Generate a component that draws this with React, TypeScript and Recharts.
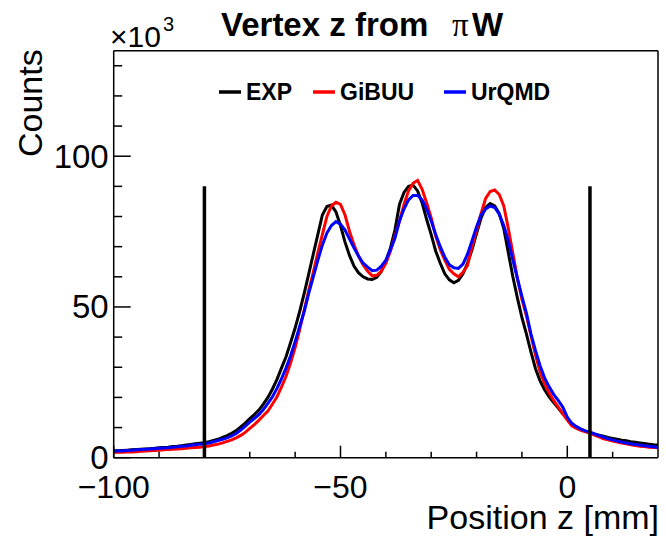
import { LineChart, Line, XAxis, YAxis, ReferenceLine } from 'recharts';

// bin centres, 1 mm steps from -100 to 20 mm
const positions = Array.from({ length: 121 }, (_, i) => -100 + i);

// counts in units of 10^3
const expCounts = [
  2.3, 2.3, 2.4, 2.5, 2.6, 2.7, 2.8, 2.9, 3.0, 3.1,
  3.3, 3.4, 3.5, 3.7, 3.8, 4.0, 4.2, 4.4, 4.6, 4.8,
  5.0, 5.3, 5.7, 6.1, 6.7, 7.3, 8.1, 9.0, 10.2, 11.5,
  13.0, 14.3, 15.8, 17.8, 20.0, 22.8, 26.0, 29.8, 33.5, 38.2,
  43.0, 48.5, 54.5, 61.0, 67.5, 74.0, 80.5, 83.3, 83.8, 81.5,
  77.0, 71.5, 67.0, 63.5, 61.3, 60.0, 59.3, 59.1, 59.8, 61.8,
  65.2, 69.5, 75.5, 84.0, 88.0, 90.0, 90.4, 88.5, 84.5, 79.0,
  74.0, 68.5, 64.5, 61.0, 59.0, 58.0, 58.8, 61.0, 64.5, 69.0,
  74.4, 79.5, 83.0, 84.3, 83.5, 81.0, 76.0, 68.0, 60.0, 53.0,
  46.5, 41.0, 35.0, 29.5, 25.5, 22.5, 20.2, 18.3, 16.5, 14.6,
  13.0, 11.3, 10.2, 9.4, 8.8, 8.4, 7.9, 7.5, 7.1, 6.7,
  6.4, 6.1, 5.8, 5.6, 5.3, 5.1, 4.9, 4.7, 4.5, 4.3,
  4.2,
];

const gibuuCounts = [
  1.7, 1.8, 1.8, 1.9, 1.9, 2.0, 2.1, 2.2, 2.3, 2.4,
  2.5, 2.6, 2.7, 2.8, 2.9, 3.0, 3.1, 3.3, 3.4, 3.5,
  3.7, 3.9, 4.2, 4.5, 4.9, 5.4, 5.9, 6.6, 7.4, 8.4,
  9.7, 11.0, 12.4, 14.0, 15.5, 17.8, 20.2, 23.5, 27.0, 31.5,
  36.5, 42.5, 49.0, 55.5, 61.5, 68.0, 74.0, 80.0, 83.5, 84.7,
  84.0, 80.5, 75.0, 70.5, 66.8, 63.9, 61.8, 60.3, 60.5, 61.9,
  64.5, 68.5, 73.5, 78.5, 84.0, 88.5, 91.0, 92.0, 89.0, 84.5,
  79.5, 73.5, 69.0, 65.5, 62.5, 61.0, 60.0, 61.5, 63.8, 70.0,
  75.5, 81.0, 86.0, 88.3, 88.8, 87.3, 83.5, 76.0, 67.8, 59.5,
  52.5, 47.0, 40.5, 34.0, 28.5, 24.5, 21.5, 19.0, 16.8, 14.6,
  12.5, 10.6, 9.7, 9.1, 8.6, 8.2, 7.5, 6.9, 6.3, 5.9,
  5.5, 5.2, 4.9, 4.6, 4.3, 4.0, 3.8, 3.7, 3.5, 3.4,
  3.3,
];

const urqmdCounts = [
  2.2, 2.2, 2.3, 2.4, 2.5, 2.6, 2.7, 2.8, 2.9, 3.0,
  3.1, 3.2, 3.3, 3.5, 3.6, 3.8, 3.9, 4.1, 4.3, 4.5,
  4.6, 4.9, 5.3, 5.7, 6.1, 6.6, 7.2, 8.0, 9.2, 10.4,
  11.8, 13.0, 14.3, 16.0, 18.0, 20.2, 23.0, 26.2, 29.8, 33.8,
  38.5, 43.5, 48.5, 54.5, 60.0, 65.5, 70.5, 74.5, 77.0, 78.3,
  77.5, 75.5, 72.5, 69.5, 66.8, 64.5, 63.2, 62.0, 62.2, 63.5,
  65.5, 69.0, 72.8, 78.5, 82.5, 85.5, 87.0, 87.0, 85.5, 82.5,
  78.5, 74.0, 70.0, 66.5, 64.0, 63.0, 62.8, 64.2, 67.5, 72.0,
  76.6, 80.5, 82.5, 83.5, 83.0, 80.8, 77.0, 72.0, 65.6, 59.5,
  53.5, 47.9, 41.0, 35.5, 30.5, 26.5, 23.5, 21.0, 19.0, 16.8,
  13.5, 11.4, 10.3, 9.5, 8.9, 8.5, 7.9, 7.3, 6.8, 6.3,
  5.9, 5.5, 5.2, 4.9, 4.6, 4.4, 4.2, 4.0, 3.8, 3.6,
  3.4,
];

const series = [
  { key: 'exp', name: 'EXP', color: '#000000' },
  { key: 'gibuu', name: 'GiBUU', color: '#ff0000' },
  { key: 'urqmd', name: 'UrQMD', color: '#0000ff' },
];

const xTicks = [-100, -90, -80, -70, -60, -50, -40, -30, -20, -10, 0, 10];
const yTicks = [0, 10, 20, 30, 40, 50, 60, 70, 80, 90, 100, 110, 120, 130];

// target-region cuts (vertical markers)
const cutPositions = [-80, 5];
const cutHeight = 90;

const data = positions.map((z, i) => ({
  z,
  exp: expCounts[i],
  gibuu: gibuuCounts[i],
  urqmd: urqmdCounts[i],
}));

const FONT = '"Liberation Sans", Arial, Helvetica, sans-serif';

const fmt = (v: number) => (v < 0 ? '\u2212' + Math.abs(v) : String(v));

const XTick = ({ x, y, payload }: any) => {
  const major = payload.value % 50 === 0;
  return (
    <g>
      <line x1={x} x2={x} y1={y} y2={y - (major ? 12 : 6)} stroke="#000" strokeWidth={1.5} />
      {major && (
        <text x={x} y={y + 40} textAnchor="middle" fontSize={32} fontFamily={FONT} fill="#000">
          {fmt(payload.value)}
        </text>
      )}
    </g>
  );
};

const YTick = ({ x, y, payload }: any) => {
  const major = payload.value % 50 === 0;
  return (
    <g>
      <line x1={x} x2={x + (major ? 17 : 8.5)} y1={y} y2={y} stroke="#000" strokeWidth={1.5} />
      {major && (
        <text x={x - 5} y={y + 11.5} textAnchor="end" fontSize={33} fontFamily={FONT} fill="#000">
          {payload.value}
        </text>
      )}
    </g>
  );
};

const legendX = [219, 313, 444];

export default function App() {
  return (
    <div style={{ position: 'absolute', left: 0, top: 0, width: 666, height: 538, background: '#fff' }}>
      <LineChart
        width={666}
        height={538}
        data={data}
        margin={{ top: 50.7, right: 8, bottom: 35.3, left: 53.7 }}
      >
        <XAxis
          dataKey="z"
          type="number"
          domain={[-100, 20]}
          ticks={xTicks}
          interval={0}
          height={45}
          tickSize={0}
          tickMargin={0}
          tickLine={false}
          tick={XTick}
          axisLine={{ stroke: '#000', strokeWidth: 1.5 }}
          allowDataOverflow
        />
        <YAxis
          type="number"
          domain={[0, 135]}
          ticks={yTicks}
          interval={0}
          width={60}
          tickSize={0}
          tickMargin={0}
          tickLine={false}
          tick={YTick}
          axisLine={{ stroke: '#000', strokeWidth: 1.5 }}
          allowDataOverflow
        />
        <ReferenceLine y={135} stroke="#000" strokeWidth={1.5} ifOverflow="visible" />
        <ReferenceLine x={20} stroke="#000" strokeWidth={1.5} ifOverflow="visible" />
        {series.map((s) => (
          <Line
            key={s.key}
            dataKey={s.key}
            name={s.name}
            type="linear"
            stroke={s.color}
            strokeWidth={3}
            dot={false}
            isAnimationActive={false}
          />
        ))}
        {cutPositions.map((c) => (
          <ReferenceLine
            key={c}
            segment={[{ x: c, y: 0 }, { x: c, y: cutHeight }]}
            stroke="#000"
            strokeWidth={3.5}
          />
        ))}
      </LineChart>

      <svg
        width={666}
        height={538}
        style={{ position: 'absolute', left: 0, top: 0, pointerEvents: 'none' }}
        fontFamily={FONT}
      >
        {/* title */}
        <text x={221} y={36} fontSize={33} fontWeight="bold" fill="#000">
          Vertex z from
          <tspan x={452} fontFamily='"Liberation Serif", serif' fontWeight="normal">π</tspan>
          <tspan x={472}>W</tspan>
        </text>

        {/* exponent */}
        <text x={110} y={47} fontSize={30} fill="#000">
          ×10<tspan dx={2} dy={-16} fontSize={20}>3</tspan>
        </text>

        {/* axis titles */}
        <text transform="translate(42,157) rotate(-90)" fontSize={34} fill="#000">Counts</text>
        <text x={659} y={529} fontSize={34} textAnchor="end" fill="#000">Position z [mm]</text>

        {/* legend */}
        {series.map((s, i) => (
          <g key={s.key}>
            <line x1={legendX[i]} x2={legendX[i] + 22} y1={92} y2={92} stroke={s.color} strokeWidth={3.5} />
            <text x={legendX[i] + 27} y={100} fontSize={23} fontWeight="bold" fill="#000">{s.name}</text>
          </g>
        ))}
      </svg>
    </div>
  );
}
